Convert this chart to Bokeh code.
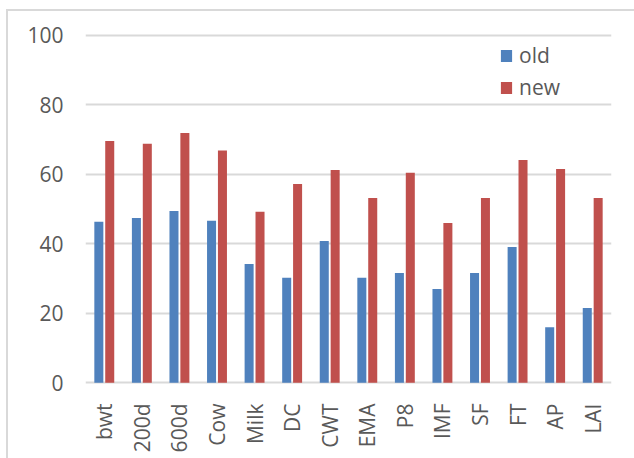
from bokeh.plotting import figure
from bokeh.models import (ColumnDataSource, FactorRange, Range1d, Legend, LegendItem,
                          FixedTicker)
from bokeh.transform import dodge
from bokeh.embed import file_html
from bokeh.resources import INLINE
import math

traits = ["bwt", "200d", "600d", "Cow", "Milk", "DC", "CWT", "EMA", "P8", "IMF", "SF", "FT", "AP", "LAI"]
old_values = [46.3, 47.4, 49.4, 46.6, 34.2, 30.2, 40.8, 30.2, 31.6, 27.0, 31.6, 39.1, 16.0, 21.5]
new_values = [69.6, 68.8, 71.9, 66.8, 49.2, 57.2, 61.2, 53.2, 60.4, 46.0, 53.2, 64.1, 61.5, 53.2]
y_ticks = [0, 20, 40, 60, 80, 100]

BLUE = "#4F81BD"
RED = "#C0504D"
GRID = "#D9D9D9"
TEXT = "#595959"
FONT = "Open Sans"

source = ColumnDataSource(dict(trait=traits, old=old_values, new=new_values))

p = figure(
    x_range=FactorRange(factors=traits, range_padding=0),
    y_range=Range1d(-0.5, 100.5),
    width=634, height=458,
    min_border_left=85, min_border_right=23, min_border_top=33, min_border_bottom=74,
    output_backend="svg", toolbar_location=None,
    background_fill_color="white", border_fill_alpha=0,
)
p.outline_line_color = None

# chart-area frame, drawn behind the transparent canvas border
line_img = f"linear-gradient({GRID}, {GRID})"
p.styles = {
    "background": (f"{line_img} 6px 9px / 2px 100% no-repeat, "
                   f"{line_img} 6px 9px / 100% 2px no-repeat, white"),
}

old_r = p.vbar(x=dodge("trait", -0.145, range=p.x_range), top="old", width=0.24,
               source=source, fill_color=BLUE, line_color=None)
new_r = p.vbar(x=dodge("trait", 0.145, range=p.x_range), top="new", width=0.24,
               source=source, fill_color=RED, line_color=None)

# horizontal grid only
p.xgrid.grid_line_color = None
p.ygrid.grid_line_color = GRID
p.ygrid.grid_line_width = 2
p.yaxis.ticker = FixedTicker(ticks=y_ticks)

for ax in (p.xaxis[0], p.yaxis[0]):
    ax.axis_line_color = None
    ax.major_tick_line_color = None
    ax.minor_tick_line_color = None
    ax.major_tick_out = 0
    ax.major_tick_in = 0
    ax.major_label_text_font = FONT
    ax.major_label_text_font_size = "21px"
    ax.major_label_text_color = TEXT

p.yaxis.major_label_standoff = 22
p.xaxis.major_label_standoff = 19
p.xaxis.major_label_orientation = math.pi / 2

legend = Legend(
    items=[LegendItem(label="old", renderers=[old_r]),
           LegendItem(label="new", renderers=[new_r])],
    location=(414, 283),
    orientation="vertical",
    padding=0, margin=0, spacing=4,
    glyph_width=14, glyph_height=15, label_standoff=6,
    label_text_font=FONT, label_text_font_size="21px", label_text_color=TEXT,
    border_line_color=None, background_fill_alpha=0,
)
p.add_layout(legend)

open("out.html", "w").write(file_html(p, INLINE))
